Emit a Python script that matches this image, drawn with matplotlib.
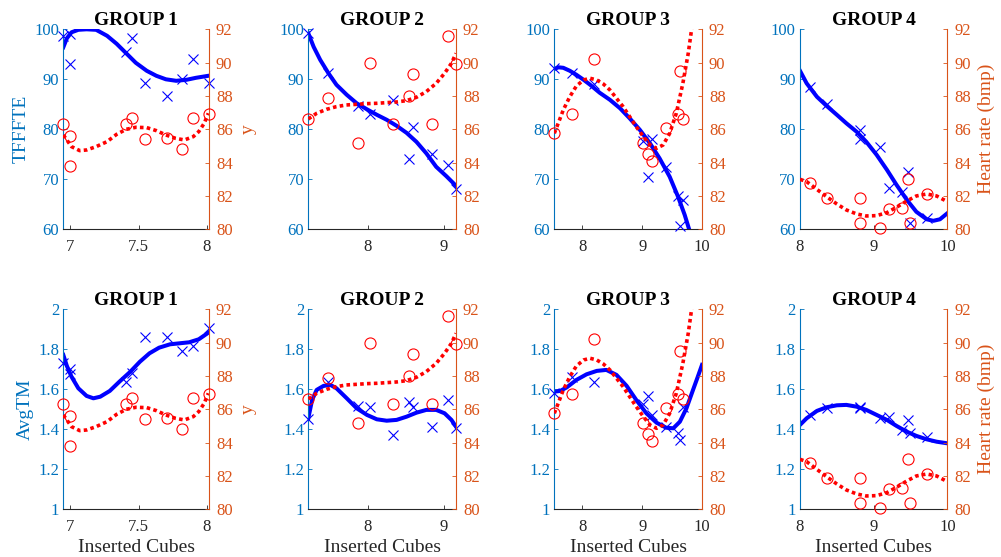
# coding:utf-8
'''
   2x4 panels: TFFFTE / AvgTM (left axis) and heart rate (right axis) against inserted cubes
'''
import matplotlib
matplotlib.use('Agg')
import matplotlib.pyplot as plt
from matplotlib.ticker import FuncFormatter

plt.rcParams['font.family'] = ['Liberation Serif', 'DejaVu Serif']

# ---- scatter data, one x list per group (shared by both rows) ----
cubes_g1 = [6.95, 7.0, 7.0, 7.41, 7.45, 7.55, 7.71, 7.82, 7.90, 8.015]
cubes_g2 = [7.22, 7.48, 7.87, 8.03, 8.33, 8.54, 8.60, 8.85, 9.06, 9.16]
cubes_g3 = [7.53, 7.83, 8.19, 9.01, 9.10, 9.17, 9.39, 9.60, 9.63, 9.68]
cubes_g4 = [8.14, 8.37, 8.81, 8.81, 9.09, 9.21, 9.38, 9.46, 9.49, 9.72]

hr_g1 = [86.3, 85.6, 83.8, 86.3, 86.7, 85.4, 85.5, 84.8, 86.7, 86.9]
hr_g2 = [86.6, 87.9, 85.2, 90.0, 86.3, 88.0, 89.3, 86.3, 91.6, 89.9]
hr_g3 = [85.8, 86.9, 90.2, 85.2, 84.5, 84.1, 86.1, 86.9, 89.5, 86.6]
hr_g4 = [82.8, 81.9, 81.9, 80.4, 80.1, 81.2, 81.3, 83.0, 80.4, 82.1]

tfffte_g1 = [98.7, 93.0, 99.0, 95.5, 98.2, 89.3, 86.7, 90.1, 94.0, 89.3]
tfffte_g2 = [99.2, 91.3, 84.7, 83.1, 85.9, 74.0, 80.5, 75.1, 72.9, 68.0]
tfffte_g3 = [92.2, 91.3, 89.0, 77.6, 70.5, 78.0, 72.4, 66.7, 60.7, 65.9]
tfffte_g4 = [88.4, 85.1, 79.9, 78.0, 76.5, 68.3, 67.4, 71.4, 61.3, 62.2]

avgtm_g1 = [1.733, 1.70, 1.675, 1.638, 1.68, 1.86, 1.863, 1.79, 1.818, 1.905]
avgtm_g2 = [1.45, 1.638, 1.518, 1.513, 1.372, 1.538, 1.513, 1.413, 1.547, 1.405]
avgtm_g3 = [1.58, 1.663, 1.638, 1.527, 1.567, 1.472, 1.413, 1.383, 1.347, 1.513]
avgtm_g4 = [1.472, 1.508, 1.513, 1.505, 1.458, 1.463, 1.397, 1.447, 1.38, 1.363]

# ---- fitted curves ----
hr_fit_x1 = [6.95, 6.976, 7.01, 7.07, 7.12, 7.19, 7.27, 7.34, 7.41, 7.48, 7.56, 7.63, 7.70, 7.77, 7.835, 7.90, 7.94, 7.98, 8.01]
hr_fit_y1 = [85.66, 85.36, 84.96, 84.72, 84.76, 84.96, 85.26, 85.7, 86.0, 86.12, 86.1, 85.92, 85.66, 85.46, 85.36, 85.56, 85.86, 86.36, 86.96]
hr_fit_x2 = [7.22, 7.33, 7.46, 7.59, 7.72, 7.86, 7.99, 8.12, 8.25, 8.38, 8.51, 8.64, 8.77, 8.90, 9.01, 9.10, 9.16]
hr_fit_y2 = [86.62, 86.96, 87.2, 87.36, 87.46, 87.5, 87.54, 87.56, 87.6, 87.64, 87.72, 87.92, 88.26, 88.76, 89.36, 89.96, 90.56]
hr_fit_x3 = [7.53, 7.6, 7.68, 7.79, 7.9, 8.02, 8.13, 8.24, 8.35, 8.46, 8.57, 8.68, 8.79, 8.9, 9.02, 9.13, 9.24, 9.35, 9.46, 9.57, 9.68, 9.77, 9.83]
hr_fit_y3 = [85.76, 86.4, 87.16, 87.96, 88.6, 88.96, 89.06, 88.96, 88.72, 88.36, 87.86, 87.36, 86.76, 86.16, 85.56, 85.06, 84.86, 85.06, 85.76, 86.96, 88.76, 90.56, 92.1]
hr_fit_x4 = [8.0, 8.09, 8.18, 8.27, 8.36, 8.5, 8.63, 8.77, 8.9, 9.04, 9.18, 9.31, 9.45, 9.58, 9.72, 9.855, 10.0]
hr_fit_y4 = [83.0, 82.86, 82.56, 82.26, 81.96, 81.52, 81.16, 80.92, 80.8, 80.82, 81.0, 81.32, 81.7, 82.0, 82.12, 82.0, 81.66]

tf_fit_x1 = [6.95, 6.976, 7.01, 7.06, 7.12, 7.19, 7.27, 7.34, 7.41, 7.48, 7.56, 7.63, 7.70, 7.775, 7.85, 7.92, 8.01]
tf_fit_y1 = [96.4, 98.2, 99.4, 99.9, 100.0, 99.9, 98.7, 97.1, 95.2, 93.3, 91.7, 90.7, 90.0, 89.7, 89.9, 90.3, 90.7]
tf_fit_x2 = [7.22, 7.29, 7.376, 7.485, 7.59, 7.725, 7.856, 7.99, 8.12, 8.25, 8.38, 8.51, 8.64, 8.77, 8.90, 9.035, 9.16]
tf_fit_y2 = [99.2, 96.5, 93.9, 91.2, 88.9, 86.9, 85.2, 84.0, 82.9, 81.9, 80.7, 79.3, 77.5, 75.2, 72.5, 70.6, 68.7]
tf_fit_x3 = [7.53, 7.6, 7.68, 7.79, 7.9, 8.02, 8.13, 8.29, 8.46, 8.63, 8.79, 8.96, 9.13, 9.29, 9.46, 9.6, 9.71, 9.79]
tf_fit_y3 = [92.07, 92.4, 92.3, 91.7, 90.9, 89.9, 88.9, 87.3, 85.9, 84.2, 82.2, 79.9, 77.2, 74.2, 70.5, 66.5, 62.9, 59.8]
tf_fit_x4 = [8.0, 8.09, 8.23, 8.36, 8.5, 8.63, 8.77, 8.9, 9.04, 9.18, 9.31, 9.45, 9.58, 9.72, 9.81, 9.9, 10.0]
tf_fit_y4 = [91.7, 89.2, 86.5, 84.7, 82.9, 81.2, 79.5, 77.5, 74.9, 71.9, 68.9, 65.9, 63.5, 62.0, 61.7, 62.0, 63.2]

am_fit_x1 = [6.95, 6.976, 7.01, 7.06, 7.12, 7.17, 7.22, 7.29, 7.36, 7.44, 7.51, 7.58, 7.65, 7.73, 7.80, 7.87, 7.94, 8.01]
am_fit_y1 = [1.772, 1.717, 1.663, 1.605, 1.567, 1.555, 1.563, 1.592, 1.638, 1.688, 1.738, 1.78, 1.808, 1.825, 1.83, 1.835, 1.85, 1.883]
am_fit_x2 = [7.22, 7.27, 7.33, 7.42, 7.51, 7.59, 7.725, 7.856, 7.99, 8.12, 8.25, 8.38, 8.51, 8.64, 8.77, 8.90, 9.01, 9.10, 9.16]
am_fit_y2 = [1.455, 1.547, 1.597, 1.617, 1.622, 1.605, 1.555, 1.505, 1.472, 1.45, 1.443, 1.447, 1.463, 1.483, 1.497, 1.497, 1.48, 1.447, 1.413]
am_fit_x3 = [7.53, 7.63, 7.74, 7.9, 8.07, 8.24, 8.4, 8.57, 8.74, 8.9, 9.07, 9.24, 9.4, 9.52, 9.63, 9.74, 9.85, 9.93, 10.0]
am_fit_y3 = [1.588, 1.592, 1.61, 1.647, 1.675, 1.692, 1.697, 1.672, 1.617, 1.547, 1.48, 1.433, 1.408, 1.405, 1.438, 1.505, 1.597, 1.663, 1.722]
am_fit_x4 = [8.0, 8.09, 8.23, 8.36, 8.5, 8.63, 8.77, 8.9, 9.04, 9.18, 9.31, 9.45, 9.58, 9.72, 9.855, 10.0]
am_fit_y4 = [1.422, 1.455, 1.492, 1.51, 1.52, 1.522, 1.513, 1.497, 1.472, 1.447, 1.417, 1.388, 1.367, 1.35, 1.338, 1.33]

x_limits = [(6.95, 8.015), (7.22, 9.16), (7.53, 10.0), (8.0, 10.0)]
x_ticks = [[7, 7.5, 8], [8, 9], [8, 9, 10], [8, 9, 10]]

LEFT_C = '#0072BD'
RIGHT_C = '#D95319'
AX_C = '#262626'
fmt = FuncFormatter(lambda v, p: '%g' % round(v, 4))


# 画一个双y轴子图
def draw_panel(ax, k, x, yl, fxl, fyl, hr, fxr, fyr, ylim, yticks, lname, rname, xlabel):
    ax2 = ax.twinx()
    ax.plot(fxl, fyl, '-', color='blue', lw=2.9, zorder=2)
    ax.plot(x, yl, 'x', color='blue', ms=6.5, mew=0.8, clip_on=False, zorder=3)
    ax2.plot(fxr, fyr, color='red', lw=2.6, ls=(0, (1, 0.9)), zorder=2)
    ax2.plot(x, hr, 'o', color='red', mfc='none', ms=8, mew=0.8, clip_on=False, zorder=3)

    ax.set_xlim(*x_limits[k])
    ax.set_xticks(x_ticks[k])
    ax.set_ylim(*ylim)
    ax.set_yticks(yticks)
    ax2.set_ylim(80, 92)
    ax2.set_yticks(range(80, 93, 2))
    ax.xaxis.set_major_formatter(fmt)
    ax.yaxis.set_major_formatter(fmt)

    for s in ['top', 'right']:
        ax.spines[s].set_visible(False)
    for s in ['top', 'left', 'bottom']:
        ax2.spines[s].set_visible(False)
    ax.spines['left'].set_color(LEFT_C)
    ax.spines['bottom'].set_color(AX_C)
    ax2.spines['right'].set_color(RIGHT_C)
    for a in (ax, ax2):
        for s in a.spines.values():
            s.set_linewidth(0.8)

    ax.tick_params(axis='y', direction='in', length=3, width=0.6, colors=LEFT_C, labelsize=12, pad=3)
    ax.tick_params(axis='x', direction='in', length=3, width=0.6, colors=AX_C, labelsize=12, pad=7)
    ax2.tick_params(axis='y', direction='in', length=3, width=0.6, colors=RIGHT_C, labelsize=12, pad=5)

    ax.set_title('GROUP %d' % (k + 1), fontsize=14, fontweight='bold', pad=2)
    if lname:
        ax.set_ylabel(lname, color=LEFT_C, fontsize=14, labelpad=3)
    if rname:
        ax2.set_ylabel(rname, color=RIGHT_C, fontsize=14, labelpad=5)
    if xlabel:
        ax.set_xlabel('Inserted Cubes', color=AX_C, fontsize=14, labelpad=3)


if __name__ == '__main__':
    fig = plt.figure(figsize=(10.01, 5.57), dpi=100)
    lefts = [63.3, 308.3, 554.3, 800.0]
    widths = [145.7, 147.7, 147.7, 147.3]
    rows_top = [29.3, 309.3]
    H = 200.0

    xs = [cubes_g1, cubes_g2, cubes_g3, cubes_g4]
    hrs = [hr_g1, hr_g2, hr_g3, hr_g4]
    hr_fx = [hr_fit_x1, hr_fit_x2, hr_fit_x3, hr_fit_x4]
    hr_fy = [hr_fit_y1, hr_fit_y2, hr_fit_y3, hr_fit_y4]
    row_y = [[tfffte_g1, tfffte_g2, tfffte_g3, tfffte_g4],
             [avgtm_g1, avgtm_g2, avgtm_g3, avgtm_g4]]
    row_fx = [[tf_fit_x1, tf_fit_x2, tf_fit_x3, tf_fit_x4],
              [am_fit_x1, am_fit_x2, am_fit_x3, am_fit_x4]]
    row_fy = [[tf_fit_y1, tf_fit_y2, tf_fit_y3, tf_fit_y4],
              [am_fit_y1, am_fit_y2, am_fit_y3, am_fit_y4]]
    row_lim = [(60, 100), (1, 2)]
    row_ticks = [[60, 70, 80, 90, 100], [1, 1.2, 1.4, 1.6, 1.8, 2]]
    row_name = ['TFFFTE', 'AvgTM']

    for r in range(2):
        for k in range(4):
            rect = [lefts[k] / 1001, (557 - rows_top[r] - H) / 557, widths[k] / 1001, H / 557]
            ax = fig.add_axes(rect)
            rname = 'y' if k == 0 else ('Heart rate (bmp)' if k == 3 else None)
            draw_panel(ax, k, xs[k], row_y[r][k], row_fx[r][k], row_fy[r][k],
                       hrs[k], hr_fx[k], hr_fy[k], row_lim[r], row_ticks[r],
                       row_name[r] if k == 0 else None, rname, r == 1)

    fig.savefig('out.png', dpi=100)
